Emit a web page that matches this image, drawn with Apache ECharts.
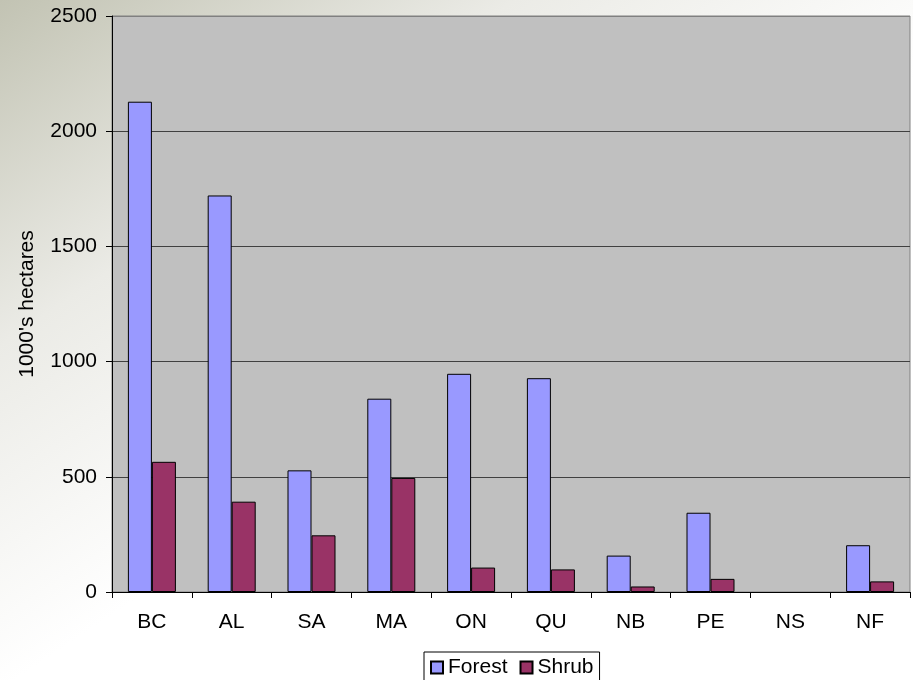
<!DOCTYPE html>
<html>
<head>
<meta charset="utf-8">
<script src="https://cdn.jsdelivr.net/npm/echarts@6/dist/echarts.min.js"></script>
<style>
html, body { margin: 0; padding: 0; }
#chart { width: 913px; height: 680px; }
</style>
</head>
<body>
<div id="chart"></div>
<script>
var provinces = ['BC', 'AL', 'SA', 'MA', 'ON', 'QU', 'NB', 'PE', 'NS', 'NF'];
var forest = [2128, 1721, 528, 839, 947, 928, 158, 344, 0, 203];
var shrub = [565, 392, 246, 495, 106, 98, 24, 57, 0, 46];
var yTicks = [0, 500, 1000, 1500, 2000, 2500];

var font = 'Liberation Sans, Arial, sans-serif';

// zero values get no outline, like the original
function barData(values) {
    return values.map(function (v) {
        return v === 0 ? { value: v, itemStyle: { borderWidth: 0 } } : v;
    });
}

var mychart = echarts.init(document.getElementById('chart'));
var option = {
    animation: false,
    backgroundColor: {
        type: 'linear', x: 0, y: 0, x2: 0.35, y2: 0.7,
        colorStops: [
            { offset: 0, color: '#c2c3b3' },
            { offset: 0.5, color: '#ebebe6' },
            { offset: 1, color: '#ffffff' }
        ]
    },
    grid: {
        left: 112,
        right: 3,
        top: 16,
        bottom: 88,
        show: true,
        backgroundColor: '#c0c0c0',
        borderColor: '#808080',
        borderWidth: 1
    },
    legend: {
        data: ['Forest', 'Shrub'],
        icon: 'rect',
        bottom: -4,
        left: 424,
        itemWidth: 12,
        itemHeight: 12,
        itemGap: 12,
        padding: [5, 6, 6, 6],
        borderColor: '#000',
        borderWidth: 1,
        backgroundColor: '#fff',
        textStyle: { fontFamily: font, fontSize: 21, color: '#000', padding: [0, 0, 0, 0] }
    },
    xAxis: {
        type: 'category',
        data: provinces,
        axisLine: { lineStyle: { color: '#000', width: 1 } },
        axisTick: { show: true, length: 6, lineStyle: { color: '#000' } },
        axisLabel: { fontFamily: font, fontSize: 21, color: '#000', margin: 20 }
    },
    yAxis: {
        type: 'value',
        min: 0,
        max: 2500,
        interval: 500,
        name: "1000's hectares",
        nameLocation: 'middle',
        nameRotate: 90,
        nameGap: 74,
        nameTextStyle: { fontFamily: font, fontSize: 21, color: '#000' },
        axisLine: { show: true, lineStyle: { color: '#000', width: 1 } },
        axisTick: { show: true, length: 6, lineStyle: { color: '#000' } },
        axisLabel: {
            fontFamily: font, fontSize: 21, color: '#000', margin: 15,
            formatter: function (v) { return yTicks.indexOf(v) >= 0 ? String(v) : ''; }
        },
        splitLine: {
            show: true,
            lineStyle: { color: ['#404040', '#404040', '#404040', '#404040', '#404040', '#808080'], width: 1 }
        }
    },
    series: [
        {
            name: 'Forest',
            type: 'bar',
            barWidth: 24,
            barGap: '0%',
            itemStyle: { color: '#9999ff', borderColor: '#000', borderWidth: 1 },
            data: barData(forest)
        },
        {
            name: 'Shrub',
            type: 'bar',
            barWidth: 24,
            barGap: '0%',
            itemStyle: { color: '#993366', borderColor: '#000', borderWidth: 1 },
            data: barData(shrub)
        }
    ]
};
mychart.setOption(option);
window.addEventListener('resize', function () {
    mychart.resize();
});
</script>
</body>
</html>
